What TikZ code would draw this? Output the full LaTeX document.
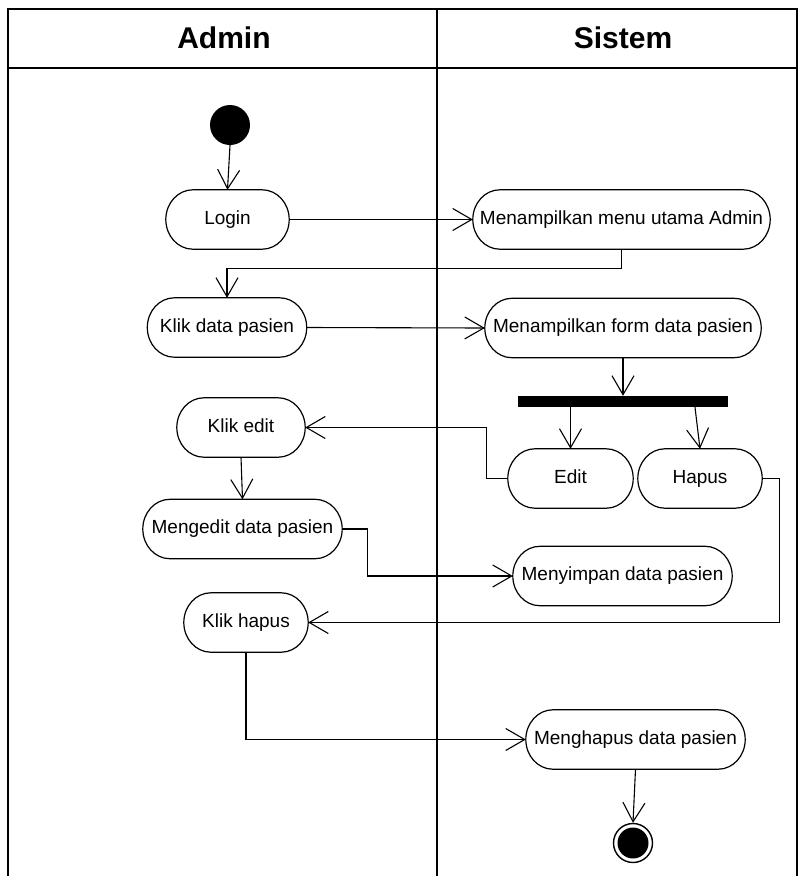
\documentclass[tikz,border=0pt]{standalone}
\usepackage{fontspec}
\setmainfont{Liberation Sans}
\usetikzlibrary{arrows.meta,calc}

\tikzset{
  lane/.style={line width=1.8pt, line cap=rect},
  acttext/.style={inner sep=0pt, minimum height=59pt, text height=13.5pt, text depth=4pt,
    font=\fontsize{19}{22}\selectfont},
  actline/.style={line width=1.2pt},
  flow/.style={line width=1.1pt, -{Straight Barb[length=19pt,width=22pt,line width=1.1pt]}},
  title/.style={font=\bfseries\fontsize{30}{36}\selectfont},
  forkbar/.style={fill=black, draw=none, inner sep=0pt, minimum width=210pt, minimum height=11pt},
  startdot/.style={circle, fill=black, inner sep=0pt, minimum size=40pt},
  enddot/.style={circle, draw=black, line width=1.4pt, inner sep=0pt, minimum size=39pt,
    path picture={\fill[black] (path picture bounding box.center) circle[radius=15.5pt];}},
}

% activity with rounded ends (half-ellipses 27 wide, 29.5 high):
% name, centre x, centre y, width, label
\newcommand\activity[5]{%
  \node[acttext, minimum width=#4pt] (#1) at (#2,#3) {#5};
  \draw[actline] ($(#1.north west)+(27,0)$) -- ($(#1.north east)+(-27,0)$)
    .. controls +(14.9,0) and +(0,-16.3) .. (#1.east)
    .. controls +(0,16.3) and +(14.9,0) .. ($(#1.south east)+(-27,0)$)
    -- ($(#1.south west)+(27,0)$)
    .. controls +(-14.9,0) and +(0,16.3) .. (#1.west)
    .. controls +(0,-16.3) and +(-14.9,0) .. ($(#1.north west)+(27,0)$) -- cycle;}

\begin{document}
\begin{tikzpicture}[x=1pt, y=-1pt]
  \useasboundingbox (0,0) rectangle (799,876);

  % swimlanes
  \draw[lane] (8,876) -- (8,9) -- (797,9) -- (797,876);
  \draw[lane] (8,68) -- (797,68);
  \draw[lane] (437,9) -- (437,876);
  \node[title] (hadmin) at (224,38) {Admin};
  \node[title] (hsistem) at (623,38) {Sistem};

  % nodes
  \node[startdot] (start) at (230,125) {};
  \activity{login}{227.5}{219.5}{123}{Login}
  \activity{menu}{621.5}{219.5}{297}{Menampilkan menu utama Admin}
  \activity{klikdata}{227}{327.5}{159}{Klik data pasien}
  \activity{form}{623}{328}{276}{Menampilkan form data pasien}
  \node[forkbar] (bar) at (623,401.5) {};
  \activity{klikedit}{241}{427.5}{128}{Klik edit}
  \activity{edit}{570.5}{478.5}{125}{Edit}
  \activity{hapus}{700}{478.5}{124}{Hapus}
  \activity{mengedit}{242.5}{529}{199}{Mengedit data pasien}
  \activity{menyimpan}{622.5}{576}{219}{Menyimpan data pasien}
  \activity{klikhapus}{246}{622.5}{124}{Klik hapus}
  \activity{menghapus}{635.5}{739.5}{219}{Menghapus data pasien}
  \node[enddot] (end) at (633,843) {};

  % control flow
  \draw[flow] (start.south) -- (login.north);
  \draw[flow] (login.east) -- (menu.west);
  \draw[flow] (menu.south) -- ++(0,19) -| (klikdata.north);
  \draw[flow] (klikdata.east) -- (form.west);
  \draw[flow] (form.south) -- (bar.north);
  \draw[flow] (edit.north |- bar.south) -- (edit.north);
  \draw[flow] ([xshift=-5pt]hapus.north |- bar.south) -- (hapus.north);
  \draw[flow] (edit.west) -- ++(-21,0) |- (klikedit.east);
  \draw[flow] (klikedit.south) -- (mengedit.north);
  \draw[flow] (mengedit.east) -- ++(25,0) |- (menyimpan.west);
  \draw[flow] (hapus.east) -- ++(17,0) |- (klikhapus.east);
  \draw[flow] (klikhapus.south) |- (menghapus.west);
  \draw[flow] (menghapus.south) -- (end.north);
\end{tikzpicture}
\end{document}
